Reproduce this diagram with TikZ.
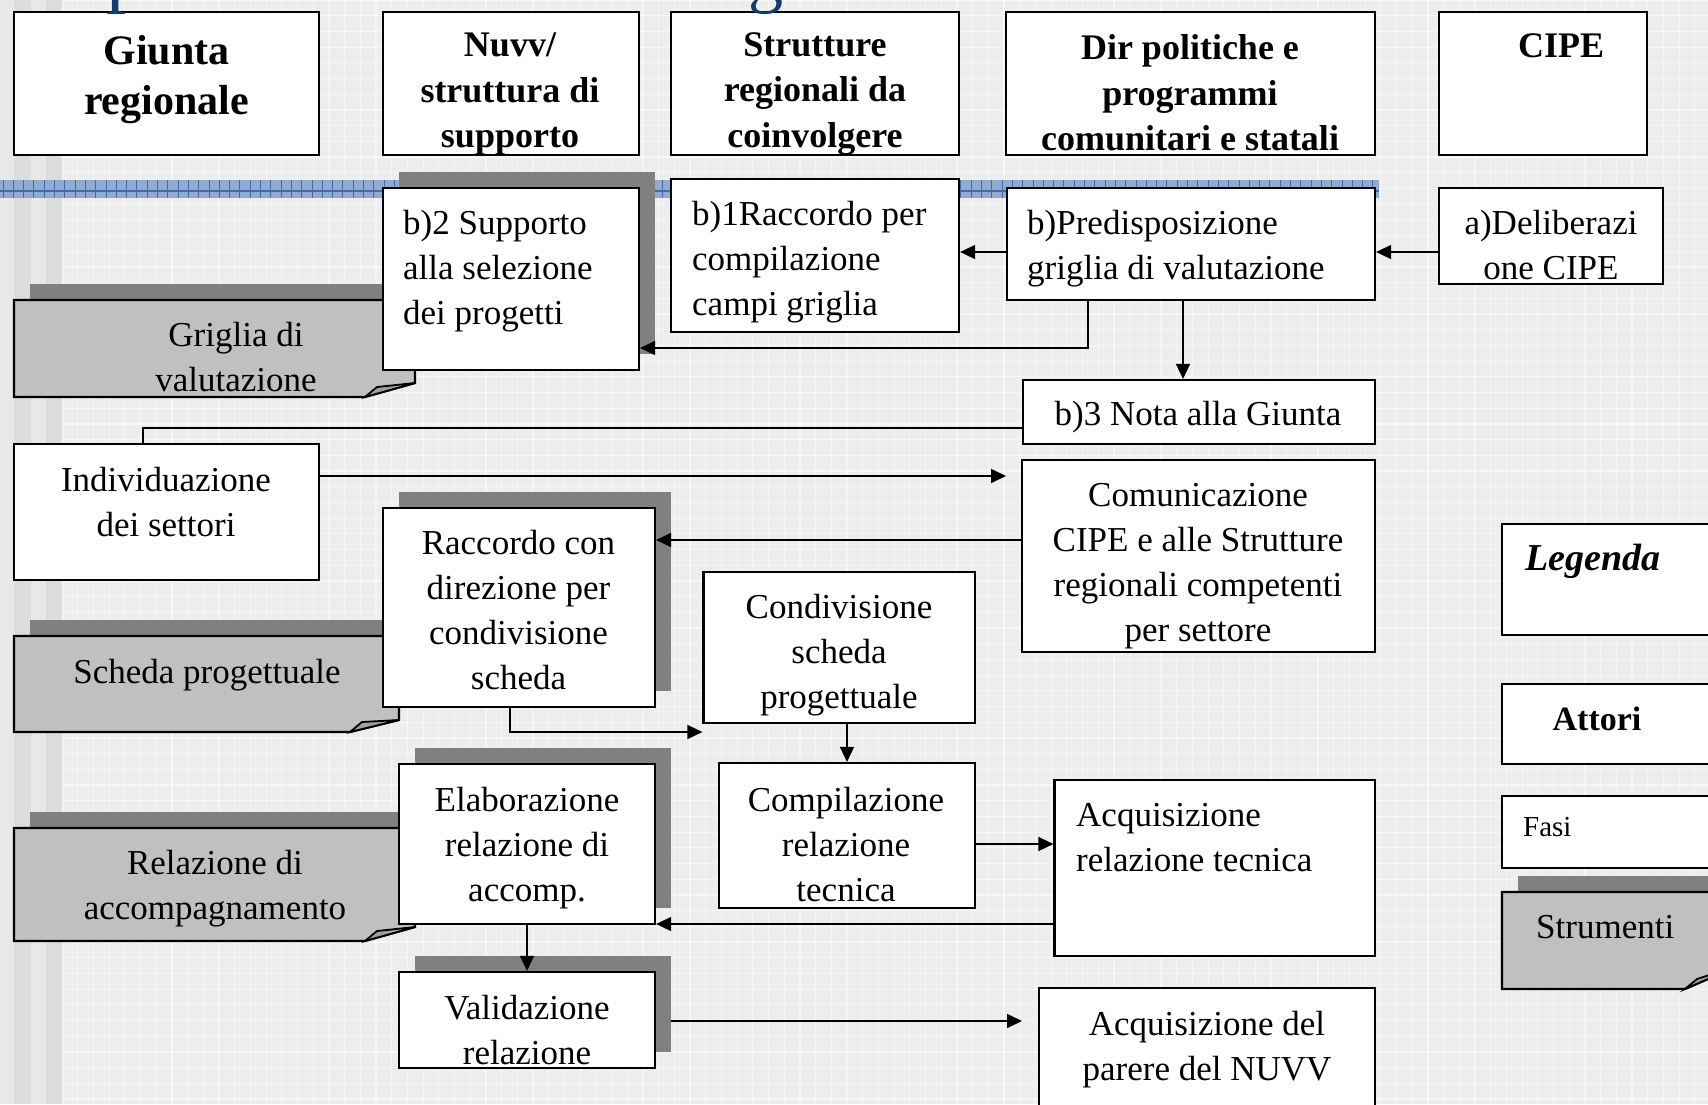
\documentclass[tikz,border=0pt]{standalone}
\usepackage{fontspec}
\setmainfont{Liberation Serif}
\usetikzlibrary{arrows.meta,fit,calc}

\definecolor{bggray}{HTML}{EDEDED}
\definecolor{stripeA}{HTML}{E8E8E8}
\definecolor{stripeB}{HTML}{DCDCDC}
\definecolor{bandblue}{HTML}{92AACF}
\definecolor{bandline}{HTML}{3F6BAE}
\definecolor{docgray}{HTML}{C0C0C0}
\definecolor{shadowgray}{HTML}{808080}
\definecolor{flapgray}{HTML}{A0A0A0}
\definecolor{titleblue}{HTML}{133B70}

\newcommand\bodyf{\fontsize{35}{45}\selectfont}
\newcommand\hdrf{\bfseries\fontsize{36}{45.5}\selectfont}

\tikzset{
  box/.style={draw=black, fill=white, line width=2.2pt, inner sep=0pt},
  shad/.style={draw=none, fill=shadowgray, inner sep=0pt},
  txt/.style={font=\bodyf, align=center, inner sep=0pt, text=black},
  ltxt/.style={font=\bodyf, align=left, inner sep=0pt, anchor=west, text=black},
  hdr/.style={font=\hdrf, align=center, inner sep=0pt},
  conn/.style={line width=1.6pt, -{Triangle[length=15pt,width=14pt]}},
  plainline/.style={line width=1.6pt},
  docline/.style={draw=black, fill=docgray, line width=2.2pt, line join=miter},
  flapline/.style={draw=black, fill=flapgray, line width=1.8pt, line join=miter},
  gridline/.style={draw=white, line width=1.2pt, opacity=0.55}
}

% L T R B F C
\newcommand\docshape[6]{%
  \fill[shadowgray] (#1+16,#2-16) -- (#3+16,#2-16) -- (#3+16,#6-16) -- (#5+16,#4-16) -- (#1+16,#4-16) -- cycle;
  \draw[docline] (#1,#2) -- (#3,#2) -- (#3,#6) -- (#5,#4) -- (#1,#4) -- cycle;
  \draw[flapline] (#5,#4) -- (#5+12,#4-10) -- (#3,#6) -- cycle;
}

\begin{document}
\begin{tikzpicture}[x=1pt,y=-1pt]
\useasboundingbox (0,0) rectangle (1708,1104);
% background
\fill[bggray] (0,0) rectangle (1708,1104);
\foreach \gx in {0,...,105} {\draw[gridline] ({62+\gx*15.7},0) -- ({62+\gx*15.7},1104);}
\foreach \gy in {0,...,71} {\draw[gridline] (62,{\gy*15.7}) -- (1708,{\gy*15.7});}
\fill[stripeA] (0,0) rectangle (14,1104);
\fill[stripeB] (14,0) rectangle (31,1104);
\fill[stripeA] (31,0) rectangle (46,1104);
\fill[stripeB] (46,0) rectangle (62,1104);
% blue band
\fill[bandblue] (0,180) rectangle (1379,198);
\foreach \bx in {0,...,133} {\draw[bandline, line width=0.9pt] ({\bx*10.3+3},180) -- ({\bx*10.3+3},198);}
\draw[bandline, line width=1.2pt] (0,191) -- (1379,191);

% documents (tools)
\docshape{14}{300}{415}{397}{365}{383}
\docshape{14}{636}{399}{732}{350}{720}
\docshape{14}{828}{415}{941}{365}{927}
\docshape{1502}{892}{1740}{989}{1685}{965}

% shadows
\node[shad, fit={(398.6,172)(655,354)}] (supp-sh) {};
\node[shad, fit={(398.6,492)(671,691)}] (raccdir-sh) {};
\node[shad, fit={(414.6,748)(671,908)}] (elab-sh) {};
\node[shad, fit={(414.6,956)(671,1052)}] (valid-sh) {};

% actor boxes
\node[box, fit={(14,12)(319,155)}] (giunta) {};
\node[box, fit={(382.6,12)(639,155)}] (nuvv) {};
\node[box, fit={(671,12)(959,155)}] (strutt) {};
\node[box, fit={(1006,12)(1375,155)}] (dir) {};
\node[box, fit={(1439,12)(1647,155)}] (cipe) {};

% phase boxes
\node[box, fit={(382.6,188)(639,370)}] (supp) {};
\node[box, fit={(671,179)(959,332)}] (racc1) {};
\node[box, fit={(1007,188)(1375,300)}] (pred) {};
\node[box, fit={(1439,188)(1663,284)}] (delib) {};
\node[box, fit={(1023,380)(1375,444)}] (nota) {};
\node[box, fit={(14,444)(319,580)}] (indiv) {};
\node[box, fit={(1022,460)(1375,652)}] (comun) {};
\node[box, fit={(382.6,508)(655,707)}] (raccdir) {};
\node[box, fit={(703.5,572)(975,723)}] (condiv) {};
\node[box, fit={(719,763)(975,908)}] (compil) {};
\node[box, fit={(1054.5,780)(1375,956)}] (acqrt) {};
\node[box, fit={(398.6,764)(655,924)}] (elab) {};
\node[box, fit={(398.6,972)(655,1068)}] (valid) {};
\node[box, fit={(1038.6,988)(1375,1130)}] (acqpar) {};

% legend boxes
\node[box, fit={(1502,524)(1740,635)}] (legenda) {};
\node[box, fit={(1502,684)(1740,764)}] (attori) {};
\node[box, fit={(1502,796)(1740,868)}] (fasi) {};

% header texts
\node[hdr, font=\bfseries\fontsize{42}{50}\selectfont] (giunta-t) at (166.5,80) {Giunta\\regionale};
\node[hdr] (nuvv-t) at (510,94) {Nuvv/\\struttura di\\supporto};
\node[hdr] (strutt-t) at (815,94) {Strutture\\regionali da\\coinvolgere};
\node[hdr] (dir-t) at (1190,93) {Dir politiche e\\programmi\\comunitari e statali};
\node[hdr] (cipe-t) at (1561,46) {CIPE};

% phase texts
\node[ltxt] (supp-t) at (403,271) {b)2 Supporto\\alla selezione\\dei progetti};
\node[ltxt] (racc1-t) at (692,262) {b)1Raccordo per\\compilazione\\campi griglia};
\node[ltxt] (pred-t) at (1027,249) {b)Predisposizione\\griglia di valutazione};
\node[txt] (delib-t) at (1551,245) {a)Deliberazi\\one CIPE};
\node[txt] (nota-t) at (1198,417) {b)3 Nota alla Giunta};
\node[txt] (indiv-t) at (166,502) {Individuazione\\dei settori};
\node[txt] (comun-t) at (1198,566) {Comunicazione\\CIPE e alle Strutture\\regionali competenti\\per settore};
\node[txt] (raccdir-t) at (518.5,610) {Raccordo con\\direzione per\\condivisione\\scheda};
\node[txt] (condiv-t) at (839,655) {Condivisione\\scheda\\progettuale};
\node[txt] (compil-t) at (846,845) {Compilazione\\relazione\\tecnica};
\node[ltxt] (acqrt-t) at (1076,838) {Acquisizione\\relazione tecnica};
\node[txt] (elab-t) at (527,848) {Elaborazione\\relazione di\\accomp.};
\node[txt] (valid-t) at (527,1030) {Validazione\\relazione};
\node[txt] (acqpar-t) at (1207,1050) {Acquisizione del\\parere del NUVV};

% tool texts
\node[txt] (griglia-t) at (236,357) {Griglia di\\valutazione};
\node[txt] (scheda-t) at (207,675) {Scheda progettuale};
\node[txt] (relaz-t) at (215,889) {Relazione di\\accompagnamento};

% legend texts
\node[ltxt, font=\bfseries\itshape\fontsize{38}{45}\selectfont] (legenda-t) at (1525,561) {Legenda};
\node[txt, font=\bfseries\fontsize{34}{45}\selectfont] (attori-t) at (1597,719) {Attori};
\node[ltxt, font=\fontsize{29}{40}\selectfont] (fasi-t) at (1523,827) {Fasi};
\node[ltxt] (strum-t) at (1536,927) {Strumenti};

% routing coordinates
\coordinate (r1) at (0,252);
\coordinate (c3) at (1088,348);
\coordinate (c4) at (1183,0);
\coordinate (c5) at (143,428);
\coordinate (c6) at (1006,476);
\coordinate (r7) at (0,540);
\coordinate (c8) at (510,732);
\coordinate (c9) at (847,0);
\coordinate (r10) at (0,844);
\coordinate (r11) at (0,924);
\coordinate (c12) at (527,0);
\coordinate (c13) at (1022,1021);

% connectors
\draw[conn] (delib.west |- r1) -- (pred.east |- r1);
\draw[conn] (pred.west |- r1) -- (racc1.east |- r1);
\draw[conn] (pred.south -| c3) |- (supp.east |- c3);
\draw[conn] (pred.south -| c4) -- (nota.north -| c4);
\draw[plainline] (nota.west |- c5) -| (indiv.north -| c5);
\draw[conn] (indiv.east |- c6) -- (c6);
\draw[conn] (comun.west |- r7) -- (raccdir.east |- r7);
\draw[conn] (raccdir.south -| c8) |- (condiv.west |- c8);
\draw[conn] (condiv.south -| c9) -- (compil.north -| c9);
\draw[conn] (compil.east |- r10) -- (acqrt.west |- r10);
\draw[conn] (acqrt.west |- r11) -- (elab.east |- r11);
\draw[conn] (elab.south -| c12) -- (valid.north -| c12);
\draw[conn] (valid-sh.east |- c13) -- (c13);

% cut-off title glyphs at the top edge
\node[anchor=base west, inner sep=0pt, text=titleblue, font=\fontsize{80}{80}\selectfont] (title-p) at (106,-2.4) {p};
\node[anchor=base west, inner sep=0pt, text=titleblue, font=\fontsize{70}{70}\selectfont] (title-g) at (748,-1) {g};
\end{tikzpicture}
\end{document}
